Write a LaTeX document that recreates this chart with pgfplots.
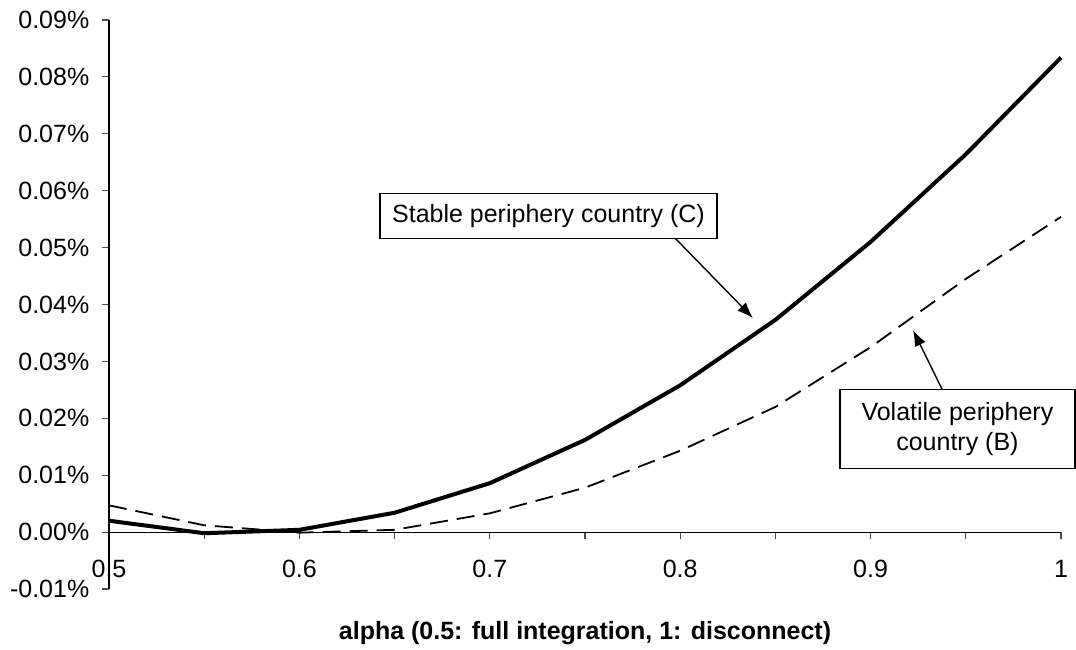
\documentclass[border=0pt]{standalone}
\usepackage{fontspec}
\setmainfont{Liberation Sans}
\usepackage{pgfplots}
\pgfplotsset{compat=1.18}
\usetikzlibrary{arrows.meta}
\begin{document}
\fontsize{12.5pt}{15pt}\selectfont
\begin{tikzpicture}
\path[use as bounding box] (-54.5pt,-30pt) rectangle (483.5pt,294.5pt);
\begin{axis}[
  at={(0pt,0pt)}, anchor=south west,
  scale only axis, width=476pt, height=284.5pt,
  xmin=0.5, xmax=1, ymin=-0.01, ymax=0.09,
  axis x line=middle, axis y line=left,
  axis line style={-, line width=0.6pt, black},
  clip=false,
  scaled y ticks=false, scaled x ticks=false,
  hide obscured x ticks=false, hide obscured y ticks=false,
  xtick={0.5,0.6,0.7,0.8,0.9,1},
  xticklabels={0.5,0.6,0.7,0.8,0.9,1},
  minor xtick={0.55,0.65,0.75,0.85,0.95},
  ytick={-0.01,0,0.01,0.02,0.03,0.04,0.05,0.06,0.07,0.08,0.09},
  yticklabels={-0.01\%,0.00\%,0.01\%,0.02\%,0.03\%,0.04\%,0.05\%,0.06\%,0.07\%,0.08\%,0.09\%},
  tick align=outside,
  major tick length=3.5pt, minor tick length=3.5pt,
  every tick/.style={black!70, line width=0.6pt},
  xticklabel style={anchor=north, yshift=-6pt},
  yticklabel style={anchor=east, xshift=-2pt},
  xlabel={\bfseries alpha (0.5: full integration, 1: disconnect)},
  xlabel style={at={(axis description cs:0.5,-0.0773)}, anchor=center},
]
\addplot[black, line width=2pt, no marks] coordinates {
(0.5,0.0020) (0.55,-0.0002) (0.6,0.0004) (0.65,0.0034) (0.7,0.0086) (0.75,0.0162)
(0.8,0.0258) (0.85,0.0373) (0.9,0.0510) (0.95,0.0664) (1.0,0.0834)};
\addplot[black, line width=0.9pt, no marks, dash pattern=on 9pt off 4.5pt] coordinates {
(0.5,0.0047) (0.55,0.0012) (0.6,-0.0001) (0.65,0.0004) (0.7,0.0033) (0.75,0.0078)
(0.8,0.0143) (0.85,0.0220) (0.9,0.0325) (0.95,0.0445) (1.0,0.0554)};
\draw[line width=0.7pt, -{Latex[length=8pt,width=6pt]}] (axis cs:0.7973,0.05167) -- (axis cs:0.8382,0.03761);
\draw[line width=0.7pt, -{Latex[length=8pt,width=6pt]}] (axis cs:0.9375,0.02513) -- (axis cs:0.9223,0.0355);
\node[draw, line width=0.6pt, fill=white, minimum width=168.5pt, minimum height=22.5pt, inner sep=2pt] at (axis cs:0.7308,0.0556) {Stable periphery country (C)};
\node[draw, line width=0.6pt, fill=white, minimum width=117.5pt, minimum height=39.5pt, inner sep=2pt, align=center] at (axis cs:0.9456,0.01819) {Volatile periphery\\country (B)};
\end{axis}
\end{tikzpicture}
\end{document}
